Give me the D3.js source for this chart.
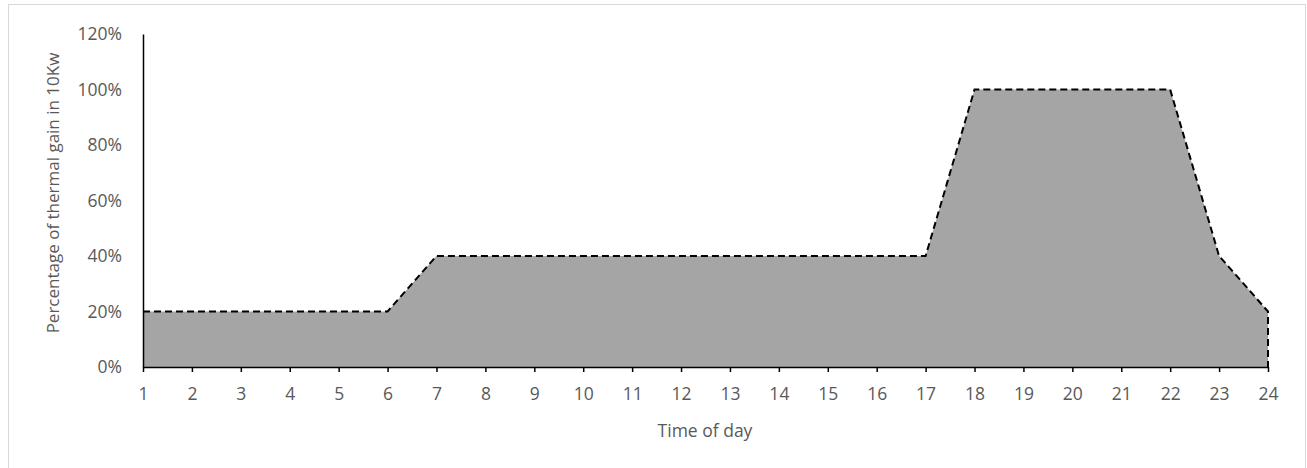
<!DOCTYPE html>
<html>
<head>
<meta charset="utf-8">
<script src="https://cdn.jsdelivr.net/npm/d3@7/dist/d3.min.js"></script>
<style>
  body { margin: 0; background: #fff; }
  text { font-family: "Open Sans", sans-serif; fill: #595959; }
</style>
</head>
<body>
<div id="chart"></div>
<script>
var hours = [1,2,3,4,5,6,7,8,9,10,11,12,13,14,15,16,17,18,19,20,21,22,23,24];
var gain = [20,20,20,20,20,20,40,40,40,40,40,40,40,40,40,40,40,100,100,100,100,100,40,20];
var yTicks = [0,20,40,60,80,100,120];

var W = 1307, H = 468;
var plotLeft = 143, plotRight = 1268, plotTop = 34, plotBottom = 367;
var fontSize = '17.5px';

var svg = d3.select('#chart').append('svg')
  .attr('width', W)
  .attr('height', H);

// outer frame
svg.append('rect')
  .attr('x', 8.5).attr('y', 4.5)
  .attr('width', 1297).attr('height', 470)
  .attr('fill', 'none')
  .attr('stroke', '#d9d9d9');

var x = d3.scaleLinear().domain([1, 24]).range([plotLeft, plotRight]);
var y = d3.scaleLinear().domain([0, 120]).range([plotBottom, plotTop]);

var area = d3.area()
  .x(function(d, i) { return x(hours[i]); })
  .y0(y(0))
  .y1(function(d) { return y(d); });

svg.append('path')
  .datum(gain)
  .attr('d', area)
  .attr('fill', '#a5a5a5');

// dashed outline: top edge plus right vertical edge
var outline = gain.map(function(d, i) { return [x(hours[i]), y(d)]; });
outline.push([x(24), y(0)]);
svg.append('path')
  .attr('d', d3.line()(outline))
  .attr('fill', 'none')
  .attr('stroke', '#000')
  .attr('stroke-width', 2)
  .attr('stroke-dasharray', '7,4');

// x axis
var xAxis = d3.axisBottom(x)
  .tickValues(hours)
  .tickFormat(d3.format('d'))
  .tickSize(5)
  .tickSizeOuter(0)
  .tickPadding(16);
var gx = svg.append('g')
  .attr('transform', 'translate(0,' + y(0) + ')')
  .call(xAxis);
gx.select('.domain').attr('stroke', '#000').attr('stroke-width', 1.5);
gx.selectAll('.tick line').attr('stroke', '#000').attr('stroke-width', 1.5);
gx.selectAll('.tick text').style('font-size', fontSize).attr('fill', '#595959');

// y axis
var yAxis = d3.axisLeft(y)
  .tickValues(yTicks)
  .tickFormat(function(d) { return d + '%'; })
  .tickSize(0)
  .tickPadding(21);
var gy = svg.append('g')
  .attr('transform', 'translate(' + plotLeft + ',0)')
  .call(yAxis);
gy.select('.domain').attr('stroke', '#000').attr('stroke-width', 1.5);
gy.selectAll('.tick text').style('font-size', fontSize).attr('fill', '#595959');

// axis titles
svg.append('text')
  .attr('x', 705)
  .attr('y', 437)
  .attr('text-anchor', 'middle')
  .style('font-size', fontSize)
  .text('Time of day');

svg.append('text')
  .attr('transform', 'translate(59,193) rotate(-90)')
  .attr('text-anchor', 'middle')
  .style('font-size', '17px')
  .text('Percentage of thermal gain in 10Kw');
</script>
</body>
</html>
